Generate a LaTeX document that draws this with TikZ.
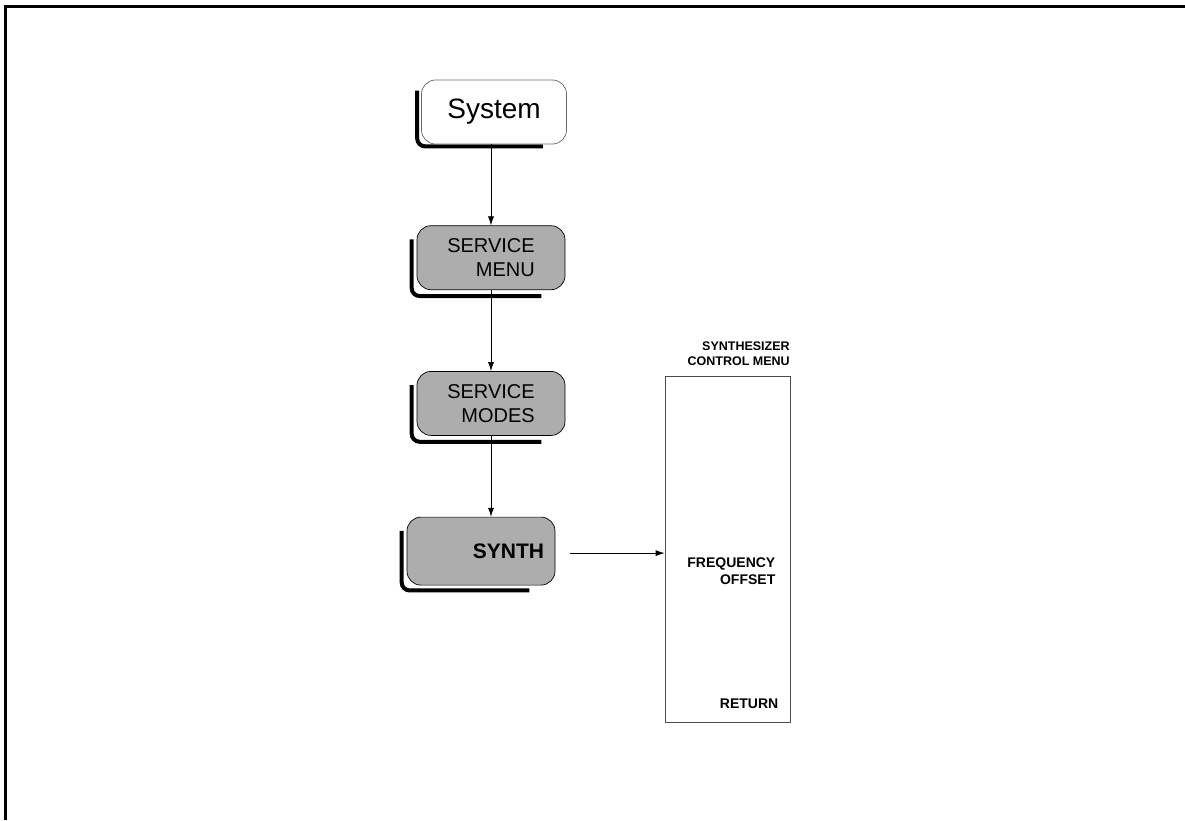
\documentclass[tikz,border=0pt]{standalone}
\usepackage{fontspec}
\setmainfont{Liberation Sans}
\usetikzlibrary{arrows.meta,positioning,backgrounds}

\begin{document}
\begin{tikzpicture}[x=1pt, y=-1pt, node distance=81pt, >={Latex[length=9pt,width=6pt]}, line width=0.7pt,
    key/.style={draw, fill=black!32, rounded corners=14pt, minimum width=148pt, minimum height=64pt, font=\fontsize{20}{24}\selectfont, align=right},
    keyshadow/.style={line width=4pt, rounded corners=8pt},
    menulabel/.style={font=\fontsize{14}{17}\selectfont\bfseries, align=right, anchor=east}]
        \useasboundingbox (0,0) rectangle (1185,820);
        \draw[line width=3pt] (5.5,820) |- (1185,6.5);

        \node [key, fill=white, draw=black!60, minimum width=145pt, font=\fontsize{28}{32}\selectfont] (system) at (494,112) {System};
        \node [key, below=of system, xshift=-3pt] (svcmenu) {SERVICE\\MENU};
        \node [key, below=of svcmenu] (svcmodes) {SERVICE\\MODES};
        \node [key, below=of svcmodes, xshift=-10pt, minimum height=68pt, text width=126pt, font=\fontsize{21}{24}\selectfont\bfseries] (synth) {SYNTH};

        \node [draw, black!70, minimum width=125pt, minimum height=346pt, inner sep=0pt] (synmenu) at (727.5,549) {};
        \node [menulabel, font=\fontsize{12.5}{15}\selectfont\bfseries, anchor=south east] (title) at ([xshift=3pt,yshift=6pt]synmenu.north east) {SYNTHESIZER\\CONTROL MENU};
        \node [menulabel] (freq) at (779,571) {FREQUENCY\\OFFSET};
        \node [menulabel] (ret) at (782,704) {RETURN};

        % shadows under the keys
        \begin{scope}[on background layer]
            \draw[keyshadow] ([shift={(-4pt,-11pt)}]system.north west) |- ([shift={(-24pt,-2pt)}]system.south east);
            \draw[keyshadow] ([shift={(-5pt,-14pt)}]svcmenu.north west) |- ([shift={(-24pt,-6pt)}]svcmenu.south east);
            \draw[keyshadow] ([shift={(-5pt,-14pt)}]svcmodes.north west) |- ([shift={(-24pt,-6pt)}]svcmodes.south east);
            \draw[keyshadow] ([shift={(-5pt,-14pt)}]synth.north west) |- ([shift={(-26pt,-5pt)}]synth.south east);
        \end{scope}

        \draw[->] (system.south -| svcmenu.north) -- (svcmenu.north);
        \draw[->] (svcmenu) -- (svcmodes);
        \draw[->] (svcmodes.south) -- (svcmodes.south |- synth.north);
        \draw[->, shorten <=15pt] ([yshift=-2pt]synth.east) -- ([yshift=-2pt]synth.east -| synmenu.west);
    \end{tikzpicture}
\end{document}
